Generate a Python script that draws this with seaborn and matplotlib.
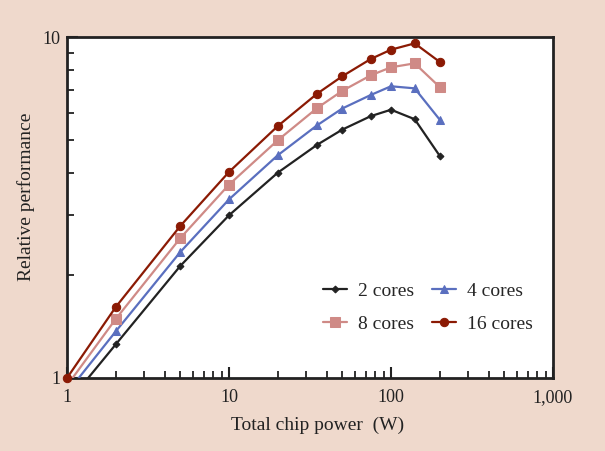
import numpy as np
import pandas as pd
import seaborn as sns
import matplotlib.pyplot as plt
from matplotlib.ticker import FixedLocator, FixedFormatter, LogLocator, NullFormatter

power = [1, 2, 5, 10, 20, 35, 50, 75, 100, 140, 200]
perf_2 = [0.84, 1.255, 2.13, 3.00, 4.00, 4.83, 5.35, 5.86, 6.12, 5.74, 4.48]
perf_4 = [0.905, 1.37, 2.34, 3.34, 4.50, 5.51, 6.17, 6.76, 7.17, 7.07, 5.72]
perf_8 = [0.95, 1.49, 2.57, 3.69, 4.98, 6.19, 6.95, 7.72, 8.15, 8.37, 7.13]
perf_16 = [1.0, 1.615, 2.79, 4.02, 5.48, 6.82, 7.67, 8.62, 9.18, 9.58, 8.45]

labels = ["2 cores", "4 cores", "8 cores", "16 cores"]
colors = ["#222222", "#5a6fbf", "#cf8a86", "#8b1a04"]
markers = ["D", "^", "s", "o"]
msizes = [3.5, 6, 6.5, 6]

df = pd.concat(
    [
        pd.DataFrame({"Power": power, "Perf": v, "Cores": lab})
        for v, lab in zip([perf_2, perf_4, perf_8, perf_16], labels)
    ]
)

sns.set_style("ticks")
plt.rcParams["font.family"] = ["Liberation Serif", "DejaVu Serif"]

bg = "#efd9cc"
ink = "#222222"
fig = plt.figure(figsize=(6.05, 4.51), dpi=100, facecolor=bg)
ax = fig.add_axes([67 / 605, (451 - 378) / 451, (553 - 67) / 605, (378 - 37) / 451])
ax.set_facecolor("white")

for lab, c, m, ms in zip(labels, colors, markers, msizes):
    sns.lineplot(
        data=df[df["Cores"] == lab],
        x="Power",
        y="Perf",
        color=c,
        marker=m,
        markersize=ms,
        markeredgecolor=c,
        linewidth=1.6,
        label=lab,
        clip_on=(lab != "16 cores"),
        zorder=3,
        ax=ax,
    )

ax.set_xscale("log")
ax.set_yscale("log")
ax.set_xlim(1, 1000)
ax.set_ylim(1, 10)

ax.xaxis.set_major_locator(FixedLocator([1, 10, 100, 1000]))
ax.xaxis.set_major_formatter(FixedFormatter(["1", "10", "100", "1,000"]))
ax.xaxis.set_minor_locator(LogLocator(base=10, subs=np.arange(2, 10)))
ax.xaxis.set_minor_formatter(NullFormatter())
ax.yaxis.set_major_locator(FixedLocator([1, 10]))
ax.yaxis.set_major_formatter(FixedFormatter(["1", "10"]))
ax.yaxis.set_minor_locator(LogLocator(base=10, subs=np.arange(2, 10)))
ax.yaxis.set_minor_formatter(NullFormatter())

ax.tick_params(which="major", direction="in", length=8, width=1.5, color=ink,
               labelsize=13, labelcolor=ink)
ax.tick_params(axis="x", which="major", pad=8)
ax.tick_params(axis="y", which="major", pad=5)
ax.tick_params(which="minor", direction="in", length=5, width=1.3, color=ink)
for s in ax.spines.values():
    s.set_linewidth(2)
    s.set_color(ink)

ax.set_xlabel("Total chip power  (W)", fontsize=14, color=ink)
ax.set_ylabel("Relative performance", fontsize=14, color=ink)
ax.xaxis.set_label_coords(0.516, -0.114)
ax.yaxis.set_label_coords(-0.066, 0.531)

h, l = ax.get_legend_handles_labels()
order = [0, 2, 1, 3]
ax.legend([h[i] for i in order], [l[i] for i in order], ncol=2, frameon=False,
          loc="lower right", bbox_to_anchor=(0.995, 0.08), fontsize=14,
          labelspacing=0.8, columnspacing=0.9, handlelength=1.25, handletextpad=0.57)

plt.savefig("out.png", dpi=100, facecolor=bg)
